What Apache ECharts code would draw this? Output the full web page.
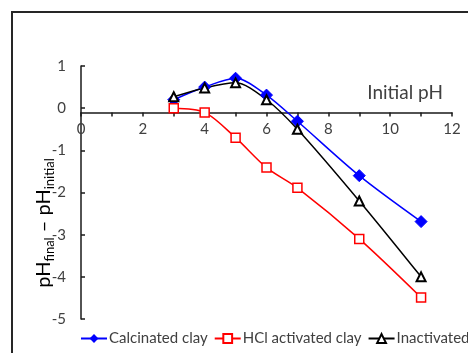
<!DOCTYPE html>
<html>
<head>
<meta charset="utf-8">
<script src="https://cdn.jsdelivr.net/npm/echarts@6/dist/echarts.min.js"></script>
<style>
html,body{margin:0;padding:0;background:#fff;}
#chart{width:468px;height:353px;}
</style>
</head>
<body>
<div id="chart"></div>
<script>
const initialPH = [3, 4, 5, 6, 7, 9, 11];
const calcinated = [0.2, 0.5, 0.71, 0.31, -0.31, -1.6, -2.69];
const hclActivated = [0.0, -0.1, -0.7, -1.41, -1.89, -3.1, -4.49];
const inactivated = [0.27, 0.48, 0.6, 0.2, -0.5, -2.2, -4.0];
const seriesNames = ['Calcinated clay', 'HCl activated clay', 'Inactivated clay'];
const xTitle = 'Initial pH';
const yMin = -5, yMax = 1, xCross = -0.1;

const FONT = 'Lato';
const W = 468, H = 353, gTop = 66, gBottom = 34, gLeft = 81, gRight = 16;
const plotH = H - gTop - gBottom;
const xAxisOffset = -plotH * (xCross - yMin) / (yMax - yMin);

const chart = echarts.init(document.getElementById('chart'), null, {renderer: 'canvas'});
const pair = (ys) => initialPH.map((x, i) => [x, ys[i]]);

chart.setOption({
  animation: false,
  backgroundColor: '#fff',
  textStyle: {fontFamily: FONT},
  grid: {left: gLeft, right: gRight, top: gTop, bottom: gBottom, containLabel: false},
  graphic: [
    {type: 'rect', shape: {x: 12, y: 12, width: 600, height: 500}, style: {fill: null, stroke: '#262626', lineWidth: 2}, silent: true},
    {type: 'text', x: 44, y: 223, rotation: Math.PI / 2,
     style: {
       text: '{a|pH}{b|final}{a| – pH}{b|initial}',
       align: 'center', verticalAlign: 'middle',
       fill: '#000',
       rich: {
         a: {fontFamily: FONT, fontSize: 20, lineHeight: 24, fill: '#000'},
         b: {fontFamily: FONT, fontSize: 13, lineHeight: 13, verticalAlign: 'bottom', fill: '#000'}
       }
     }}
  ],
  legend: {
    left: 80, top: 331, width: 700, itemGap: 6, itemWidth: 26, itemHeight: 11,
    padding: 0,
    textStyle: {fontFamily: FONT, fontSize: 15, color: '#404040', padding: [0, 0, 0, -3]},
    data: seriesNames
  },
  xAxis: {
    type: 'value', min: 0, max: 12, interval: 1,
    position: 'bottom', offset: xAxisOffset,
    name: xTitle, nameLocation: 'end', nameGap: -9,
    nameTextStyle: {fontFamily: FONT, fontSize: 19, color: '#404040', align: 'right', verticalAlign: 'bottom', padding: [0, 0, 10, 0]},
    axisLine: {onZero: false, lineStyle: {color: '#1a1a1a', width: 1.5}},
    axisTick: {show: true, inside: false, length: 4, lineStyle: {color: '#1a1a1a', width: 1.5}},
    axisLabel: {fontFamily: FONT, fontSize: 15, color: '#404040', margin: 9,
      formatter: (v) => (v % 2 === 0 ? String(v) : '')},
    splitLine: {show: false}
  },
  yAxis: {
    type: 'value', min: yMin, max: yMax, interval: 1,
    axisLine: {show: true, onZero: false, lineStyle: {color: '#1a1a1a', width: 1.5}},
    axisTick: {show: true, inside: true, length: 4, lineStyle: {color: '#1a1a1a', width: 1.5}},
    axisLabel: {fontFamily: FONT, fontSize: 15, color: '#404040', margin: 15},
    splitLine: {show: false}
  },
  series: [
    {name: seriesNames[0], type: 'line', data: pair(calcinated), smooth: 0.3,
     symbol: 'diamond', symbolSize: 12,
     lineStyle: {color: '#0000FF', width: 1.5},
     itemStyle: {color: '#0000FF', borderColor: '#0000FF'}},
    {name: seriesNames[1], type: 'line', data: pair(hclActivated), smooth: 0.3,
     symbol: 'rect', symbolSize: 9,
     lineStyle: {color: '#FF0000', width: 1.5},
     itemStyle: {color: '#fff', borderColor: '#FF0000', borderWidth: 1.5}},
    {name: seriesNames[2], type: 'line', data: pair(inactivated), smooth: 0.3,
     symbol: 'triangle', symbolSize: 9,
     lineStyle: {color: '#000000', width: 1.5},
     itemStyle: {color: '#fff', borderColor: '#000000', borderWidth: 2}}
  ]
});
</script>
</body>
</html>
